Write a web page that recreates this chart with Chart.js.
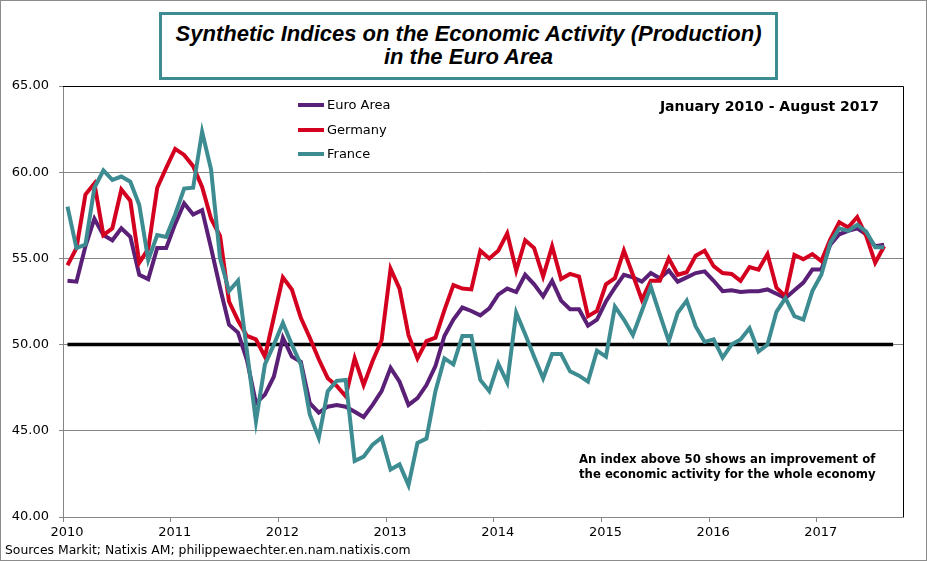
<!DOCTYPE html>
<html>
<head>
<meta charset="utf-8">
<script src="https://cdn.jsdelivr.net/npm/chart.js@4.4.0/dist/chart.umd.min.js"></script>
<style>
  html, body { margin: 0; padding: 0; background: #fff; }
  #wrap { position: relative; width: 927px; height: 561px; box-sizing: border-box; border: 1px solid #8c8c8c; overflow: hidden; }
  #wrap canvas { position: absolute; left: 0; top: 0; }
  .txt { position: absolute; font-family: "DejaVu Sans", Verdana, sans-serif; color: #000; white-space: nowrap; }
  #titleBox { position: absolute; left: 158px; top: 11px; width: 613px; height: 55px; border: 3px solid #3d8c92; background: #fff;
    font-family: "Liberation Sans", Arial, sans-serif; font-weight: bold; font-style: italic; font-size: 22px; line-height: 23px;
    text-align: center; padding-top: 7px; box-sizing: content-box; }
  .leg { position: absolute; left: 297px; width: 26px; height: 4px; }
</style>
</head>
<body>
<div id="wrap">
  <canvas id="chart" width="927" height="561"></canvas>
  <div id="titleBox">Synthetic Indices on the Economic Activity (Production)<br>in the Euro Area</div>
  <div class="leg" style="top:102px;background:#5a1f76"></div>
  <div class="txt" style="left:326px;top:96px;font-size:13px">Euro Area</div>
  <div class="leg" style="top:127px;background:#d4001f"></div>
  <div class="txt" style="left:326px;top:121px;font-size:13px">Germany</div>
  <div class="leg" style="top:151px;background:#3d8c92"></div>
  <div class="txt" style="left:326px;top:145px;font-size:13px">France</div>
  <div class="txt" style="right:47px;top:97px;font-size:14px;font-weight:bold">January 2010 - August 2017</div>
  <div class="txt" style="left:578px;top:451px;font-size:11.7px;font-weight:bold;line-height:15px">An index above 50 shows an improvement of<br>the economic activity for the whole economy</div>
  <div class="txt" style="left:4px;top:541px;font-size:12.4px">Sources Markit; Natixis AM; philippewaechter.en.nam.natixis.com</div>
</div>
<script>
// monthly values, Jan 2010 .. Aug 2017
const euroArea = [
  53.7, 53.65, 55.7, 57.3, 56.35, 56.05, 56.75, 56.25, 54.05, 53.8, 55.6, 55.6,
  57.0, 58.2, 57.55, 57.8, 55.6, 53.3, 51.15, 50.7, 49.1, 46.6, 47.1, 48.15,
  50.4, 49.3, 49.0, 46.6, 46.05, 46.4, 46.5, 46.4, 46.1, 45.8, 46.5, 47.3,
  48.65, 47.85, 46.5, 46.9, 47.65, 48.75, 50.5, 51.45, 52.15, 51.95, 51.7, 52.1,
  52.9, 53.25, 53.05, 54.05, 53.5, 52.8, 53.7, 52.55, 52.05, 52.05, 51.1, 51.45,
  52.5, 53.3, 54.05, 53.9, 53.65, 54.15, 53.85, 54.3, 53.65, 53.9, 54.15, 54.25,
  53.7, 53.1, 53.15, 53.05, 53.1, 53.1, 53.2, 52.95, 52.7, 53.15, 53.6, 54.35,
  54.35, 55.8, 56.4, 56.6, 56.75, 56.4, 55.7, 55.8
];
const germany = [
  54.6, 55.6, 58.7, 59.35, 56.35, 56.75, 59.0, 58.35, 54.75, 55.55, 59.1, 60.25,
  61.35, 61.0, 60.35, 59.15, 57.3, 56.3, 52.5, 51.4, 50.5, 50.3, 49.3, 51.6,
  53.9, 53.2, 51.55, 50.4, 49.15, 48.05, 47.6, 47.0, 49.2, 47.65, 49.05, 50.25,
  54.4, 53.25, 50.55, 49.2, 50.2, 50.4, 52.0, 53.45, 53.25, 53.2, 55.45, 55.0,
  55.45, 56.45, 54.3, 56.05, 55.6, 53.95, 55.7, 53.8, 54.1, 53.95, 51.65, 51.95,
  53.5, 53.85, 55.45, 54.05, 52.6, 53.7, 53.7, 55.0, 54.05, 54.2, 55.15, 55.45,
  54.55, 54.15, 54.1, 53.7, 54.5, 54.35, 55.25, 53.3, 52.8, 55.2, 54.95, 55.25,
  54.85, 56.1, 57.1, 56.8, 57.4, 56.3, 54.75, 55.7
];
const france = [
  58.0, 55.6, 55.8, 59.1, 60.1, 59.55, 59.75, 59.45, 58.1, 54.9, 56.35, 56.25,
  57.55, 59.05, 59.1, 62.35, 60.15, 55.0, 53.1, 53.7, 49.6, 45.55, 48.85, 50.0,
  51.25, 50.0, 48.85, 45.95, 44.6, 47.3, 47.9, 47.95, 43.25, 43.5, 44.2, 44.6,
  42.75, 43.05, 41.85, 44.3, 44.55, 47.3, 49.2, 48.85, 50.5, 50.5, 47.95, 47.3,
  48.9, 47.8, 51.85, 50.6, 49.3, 48.05, 49.45, 49.45, 48.45, 48.2, 47.85, 49.65,
  49.3, 52.2, 51.45, 50.55, 51.95, 53.35, 51.75, 50.2, 51.85, 52.55, 51.05, 50.15,
  50.3, 49.25, 50.0, 50.3, 50.95, 49.6, 50.0, 51.9, 52.7, 51.65, 51.45, 53.1,
  54.05, 55.9, 56.75, 56.6, 56.95, 56.55, 55.65, 55.65
];
// reference level (expansion / contraction threshold)
const threshold = 50;
const thresholdMonths = [0, 92];
const yearLabels = ['2010', '2011', '2012', '2013', '2014', '2015', '2016', '2017'];
const yTicks = [40, 45, 50, 55, 60, 65];

const COLORS = { euro: '#5a1f76', germany: '#d4001f', france: '#3d8c92', grid: '#868686' };

// month index -> x value (points sit in the middle of each month)
const toPoints = arr => arr.map((v, i) => ({ x: i + 0.5, y: v }));

const borderPlugin = {
  id: 'plotBorder',
  afterDraw(chart) {
    const { ctx, chartArea: a } = chart;
    ctx.save();
    ctx.strokeStyle = '#000';
    ctx.lineWidth = 1;
    ctx.beginPath();
    ctx.moveTo(a.left, a.top + 0.5);
    ctx.lineTo(a.right + 0.5, a.top + 0.5);
    ctx.lineTo(a.right + 0.5, a.bottom);
    ctx.stroke();
    ctx.restore();
  }
};

new Chart(document.getElementById('chart'), {
  type: 'line',
  data: {
    datasets: [
      { label: 'France', data: toPoints(france), borderColor: COLORS.france, order: 0 },
      { label: 'Germany', data: toPoints(germany), borderColor: COLORS.germany, order: 1 },
      { label: 'Euro Area', data: toPoints(euroArea), borderColor: COLORS.euro, order: 2 },
      { label: '50', data: thresholdMonths.map(m => ({ x: m + 0.5, y: threshold })), borderColor: '#000', borderWidth: 3.5, order: 3 }
    ]
  },
  options: {
    responsive: false,
    animation: false,
    devicePixelRatio: 1,
    layout: { padding: { top: 85, right: 25, bottom: 0, left: 0 } },
    elements: {
      line: { borderWidth: 4, tension: 0, fill: false },
      point: { radius: 0, hoverRadius: 0 }
    },
    plugins: { legend: { display: false }, tooltip: { enabled: false } },
    scales: {
      x: {
        type: 'linear',
        min: 0,
        max: 93.6,
        afterFit: s => { s.height = 45; },
        afterBuildTicks: s => { s.ticks = yearLabels.map((_, k) => ({ value: k * 12 })); },
        ticks: {
          callback: v => yearLabels[Math.round(v / 12)],
          font: { family: 'DejaVu Sans', size: 13 },
          color: '#000',
          padding: 3,
          labelOffset: 4,
          maxRotation: 0,
          autoSkip: false
        },
        grid: { drawOnChartArea: false, drawTicks: true, tickLength: 5, color: COLORS.grid },
        border: { color: COLORS.grid, width: 1 }
      },
      y: {
        min: 40,
        max: 65,
        afterFit: s => { s.width = 62; },
        afterBuildTicks: s => { s.ticks = yTicks.map(v => ({ value: v })); },
        ticks: {
          callback: v => v.toFixed(2),
          font: { family: 'DejaVu Sans', size: 13 },
          color: '#000',
          padding: 10
        },
        grid: {
          color: c => (c.tick && c.tick.value === 65 ? '#000' : COLORS.grid),
          tickColor: COLORS.grid,
          tickLength: 4,
          lineWidth: 1
        },
        border: { color: COLORS.grid, width: 1 }
      }
    }
  },
  plugins: [borderPlugin]
});
</script>
</body>
</html>
